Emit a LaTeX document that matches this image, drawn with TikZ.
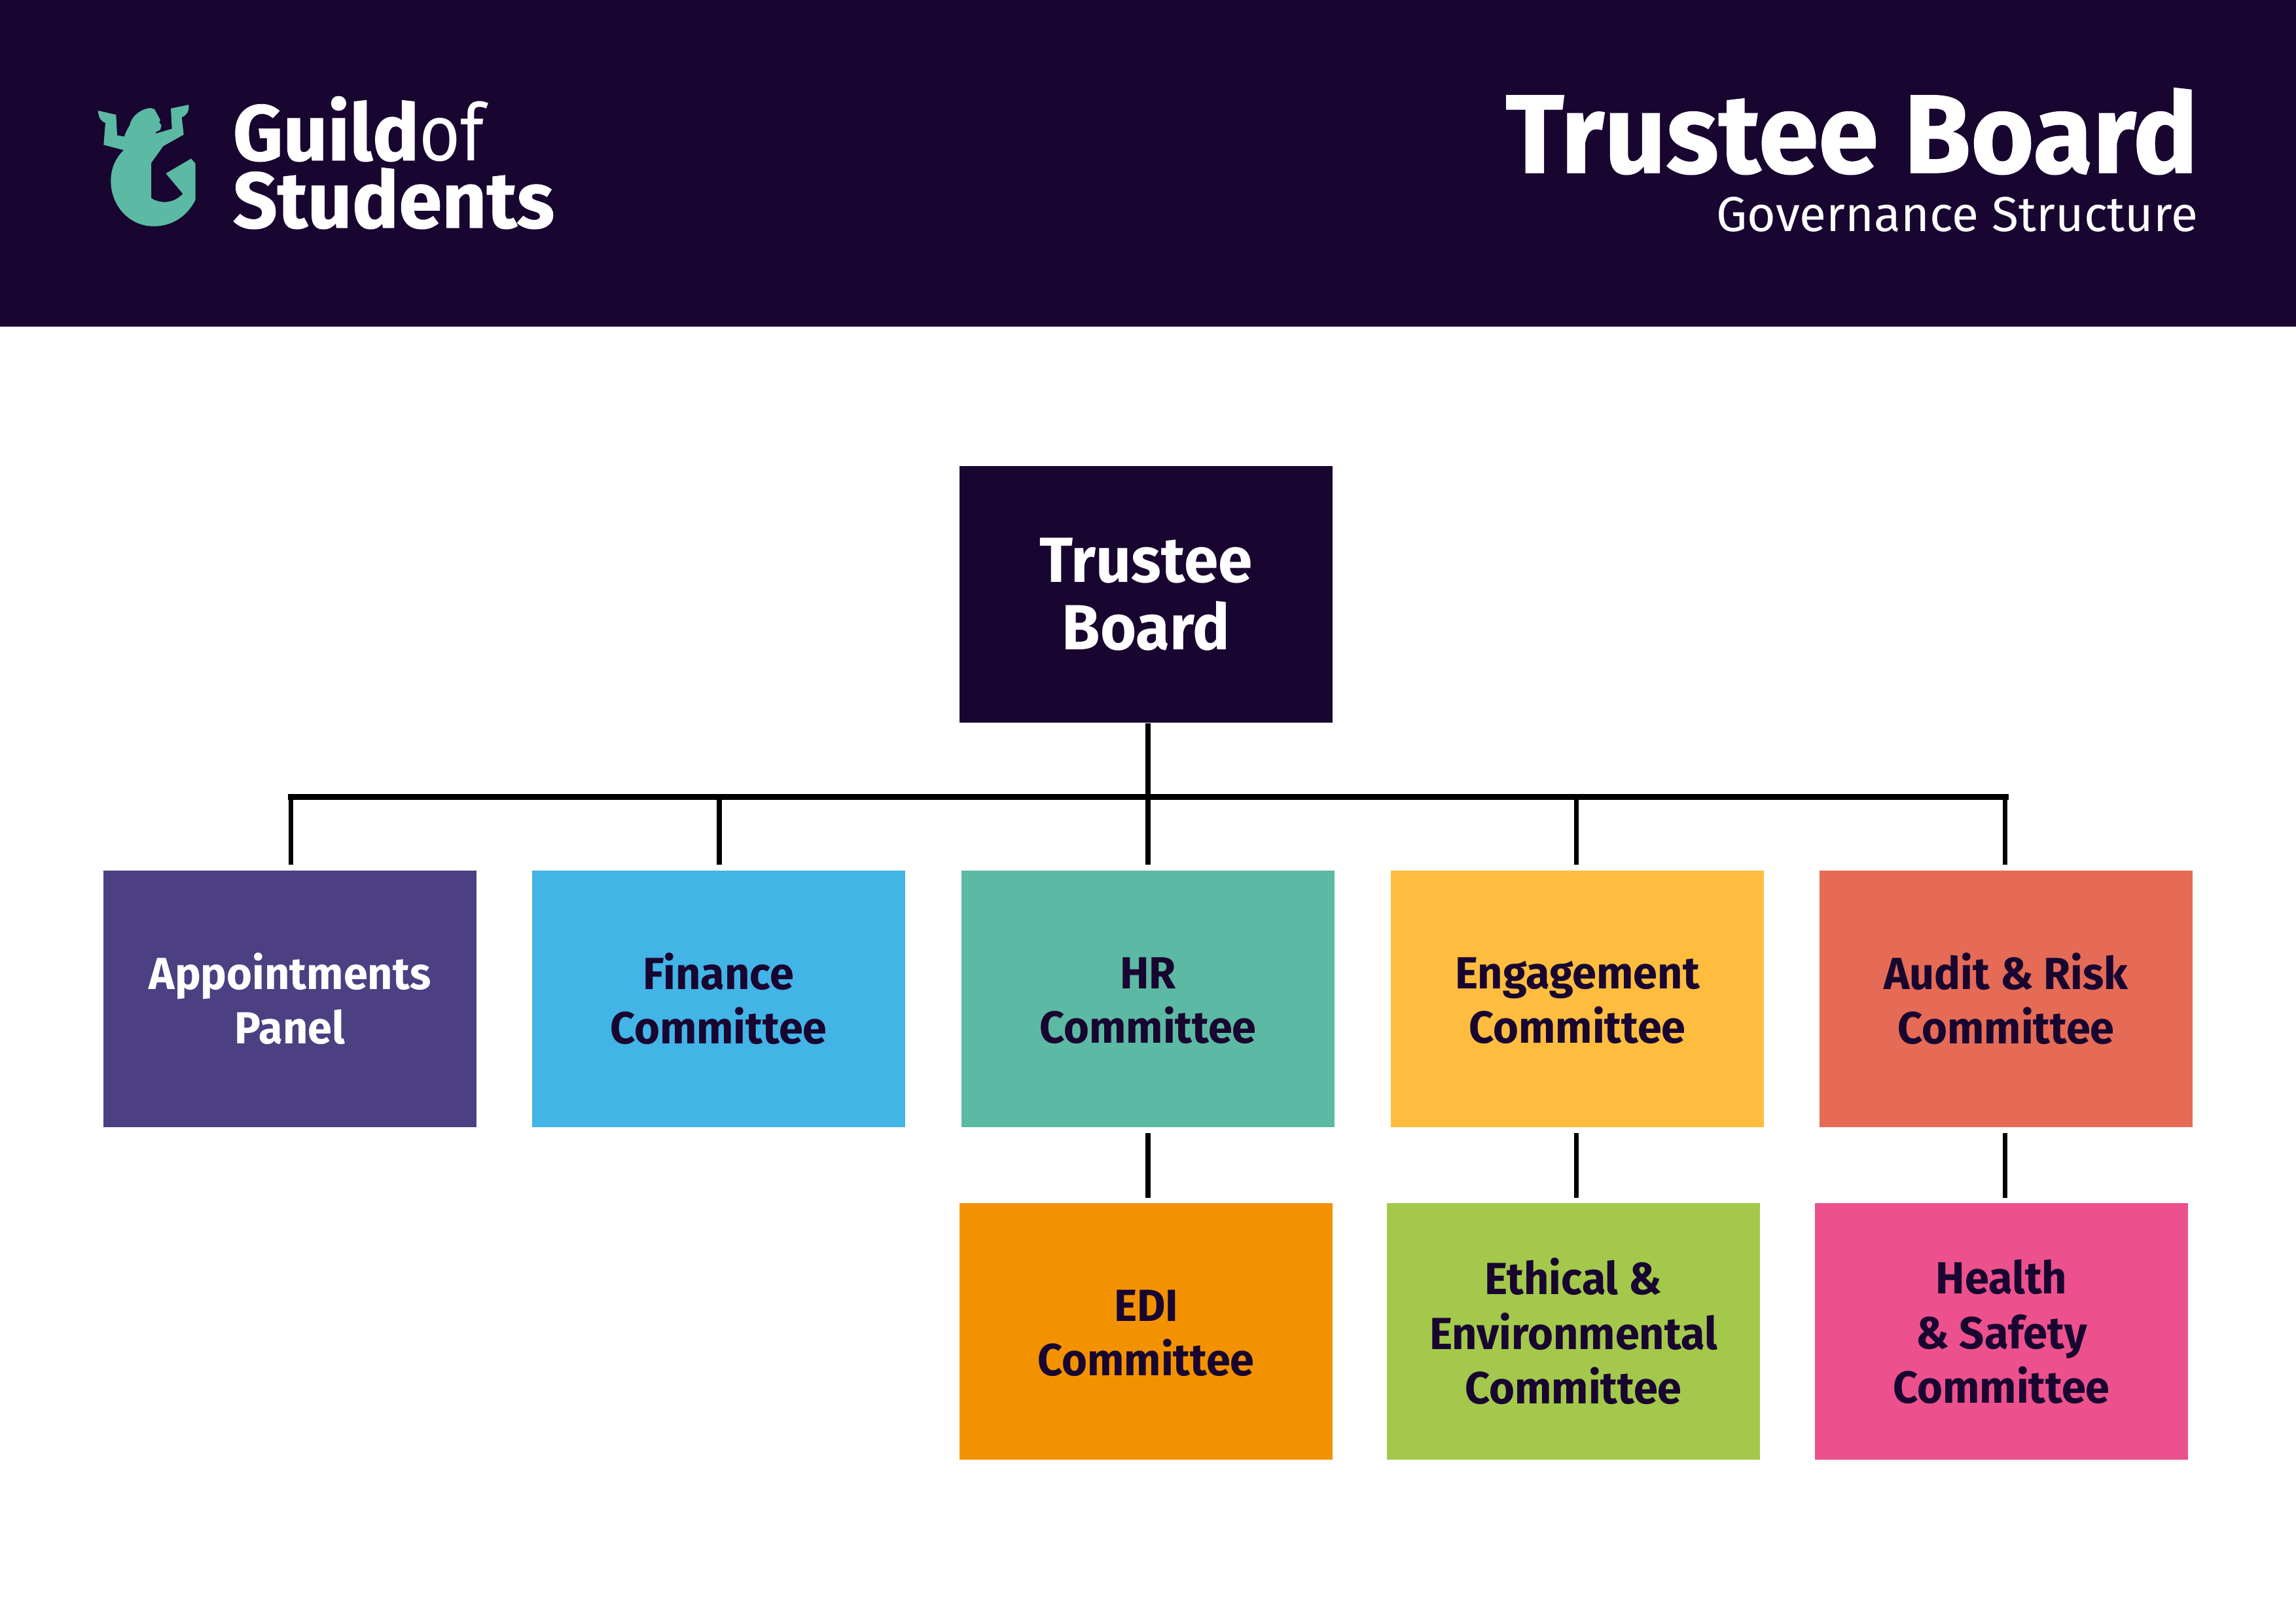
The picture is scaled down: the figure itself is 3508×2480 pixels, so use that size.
\documentclass[tikz,border=0pt]{standalone}
\usepackage{fontspec}
\setmainfont{Fira Sans}[BoldFeatures={FakeStretch=0.97}]
\newfontfamily\heavyfont{Fira Sans}[BoldFeatures={FakeStretch=0.985,FakeBold=0.7},UprightFeatures={FakeStretch=0.90}]
\newfontfamily\titlefont{Fira Sans}[BoldFeatures={FakeStretch=0.97,FakeBold=0.7}]
\definecolor{ink}{HTML}{180530}
\definecolor{cpurple}{HTML}{4C4082}
\definecolor{cblue}{HTML}{42B4E6}
\definecolor{cgreen}{HTML}{5CB9A3}
\definecolor{cyellow}{HTML}{FFBD3F}
\definecolor{cred}{HTML}{E56B56}
\definecolor{corange}{HTML}{F39200}
\definecolor{clime}{HTML}{A3C84B}
\definecolor{cpink}{HTML}{EC518D}
\newcommand{\ls}{\rule{0pt}{0.645\baselineskip}}
\newcommand{\lt}{\rule{0pt}{0.653\baselineskip}}
\tikzset{
  orgbox/.style={rectangle,inner sep=0pt,minimum width=136.8pt,minimum height=94pt,align=center,text=ink,
    font=\fontsize{16.5}{20}\selectfont\bfseries},
  conn/.style={draw=black,line width=1.85pt},
  busline/.style={draw=black,line width=2.1pt},
  gap/.style={shorten >=2pt},
  gapboth/.style={shorten <=1.9pt,shorten >=1.8pt},
  logotext/.style={anchor=base west,inner sep=0pt,text=white,font=\heavyfont\fontsize{29}{30}\selectfont},
}
\begin{document}
\begin{tikzpicture}[x=0.24pt,y=-0.24pt]
\useasboundingbox (0,0) rectangle (3508,2480);
\fill[white] (0,0) rectangle (3508,2480);
\fill[ink] (0,0) rectangle (3508,499);
% logo
\begin{scope}[shift={(130,150)},x=0.08pt,y=-0.08pt]
\fill[cgreen] (60,57) -- (142,76) -- (147,170) -- (180,176)
  .. controls (184,160) and (192,145) .. (204,125)
  .. controls (212,80) and (260,47) .. (300,45) -- (318,50) -- (345,100) -- (340,110) -- (350,125) -- (345,145) -- (325,155) -- (325,162)
  -- (398,140) -- (393,47) -- (475,30)
  .. controls (478,60) and (465,80) .. (443,87) -- (452,167) -- (358,220) -- (303,297) -- (303,458)
  .. controls (335,480) and (400,490) .. (448,438) -- (370,345) -- (486,277) -- (506,300) -- (506,465)
  .. controls (470,540) and (400,587) .. (315,587)
  .. controls (200,587) and (118,490) .. (118,380)
  .. controls (118,320) and (140,275) .. (177,238) -- (85,214) -- (93,113)
  .. controls (70,105) and (60,85) .. (60,57) -- cycle;
\end{scope}
\node[logotext] (guild) at (355,245) {\bfseries Guild\mdseries of};
\node[logotext] (students) at (355,348) {\bfseries Students};
% title
\node[anchor=base east,inner sep=0pt,text=white,font=\titlefont\fontsize{41}{44}\selectfont\bfseries] (title) at (3359,264) {Trustee Board};
\node[anchor=base east,inner sep=0pt,text=white,font=\fontsize{18}{20}\selectfont] (subtitle) at (3359,353) {Governance Structure};
% boxes
\node[orgbox,fill=ink,text=white,font=\fontsize{23.4}{24.5}\selectfont\bfseries] (trustee) at (1751,908) {\lt Trustee\\Board};
\node[orgbox,fill=cpurple,text=white] (app) at (443,1526) {\ls Appointments\\Panel};
\node[orgbox,fill=cblue] (fin) at (1098,1526) {\ls Finance\\Committee};
\node[orgbox,fill=cgreen] (hr) at (1754,1526) {\ls HR\\Committee};
\node[orgbox,fill=cyellow] (eng) at (2410,1526) {\ls Engagement\\Committee};
\node[orgbox,fill=cred] (audit) at (3065,1526) {\ls Audit \& Risk\\Committee};
\node[orgbox,fill=corange] (edi) at (1751,2034) {\ls EDI\\Committee};
\node[orgbox,fill=clime] (eth) at (2404,2034) {\ls Ethical \&\\Environmental\\Committee};
\node[orgbox,fill=cpink] (hs) at (3058,2034) {\ls Health\\\& Safety\\Committee};
% connectors
\coordinate (bus) at (1754,1217.5);
\draw[conn] (trustee.south -| hr.north) -- (bus -| hr.north);
\draw[busline,shorten <=-0.72pt,shorten >=-0.96pt] (bus -| app.north) -- (bus -| audit.north);
\foreach \n/\d in {app/0.36,fin/0.24,hr/0,eng/-0.36,audit/-0.36}
  \draw[conn,gap,transform canvas={xshift=\d pt}] (bus -| \n.north) -- (\n.north);
\draw[conn,gapboth] (hr.south) -- (hr.south |- edi.north);
\draw[conn,gapboth,transform canvas={xshift=-0.36pt}] (eng.south) -- (eng.south |- eth.north);
\draw[conn,gapboth,transform canvas={xshift=-0.36pt}] (audit.south) -- (audit.south |- hs.north);
\end{tikzpicture}
\end{document}
